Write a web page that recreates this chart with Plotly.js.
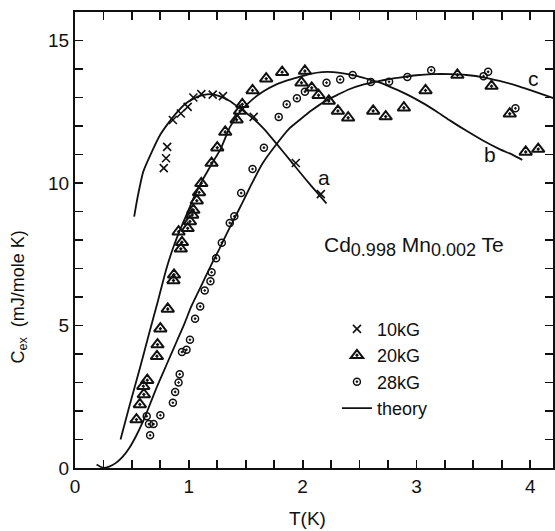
<!DOCTYPE html>
<html>
<head>
<meta charset="utf-8">
<script src="https://cdn.plot.ly/plotly-3.0.1.min.js"></script>
<style>
  html, body { margin: 0; padding: 0; background: #fff; }
  #chart { width: 555px; height: 531px; }
</style>
</head>
<body>
<div id="chart"></div>
<script>
// Excess specific heat of Cd0.998Mn0.002Te at three magnetic fields

// 10 kG measurements
const t10 = [0.78, 0.80, 0.81, 0.86, 0.93, 0.99, 1.04, 1.11, 1.21, 1.30, 1.57, 1.94, 2.16];
const c10 = [10.52, 10.87, 11.27, 12.21, 12.44, 12.67, 13.00, 13.12, 13.10, 13.05, 12.32, 10.70, 9.61];

// 20 kG measurements
const t20 = [0.54, 0.57, 0.605, 0.60, 0.635, 0.72, 0.725, 0.75, 0.815, 0.865, 0.87, 0.93, 0.94, 0.91,
             0.99, 1.01, 1.03, 1.04, 1.07, 1.09, 1.11, 1.20, 1.25, 1.32, 1.42, 1.45, 1.47, 1.56, 1.68,
             1.82, 2.02, 1.99, 2.08, 2.14, 2.23, 2.31, 2.40, 2.62, 2.73, 2.89, 3.08, 3.36, 3.66, 3.82,
             3.96, 4.07];
const c20 = [1.70, 2.23, 2.58, 2.87, 3.08, 3.92, 4.33, 4.89, 5.58, 6.58, 6.78, 7.69, 7.92, 8.29,
             8.41, 8.65, 8.88, 9.05, 9.38, 9.67, 9.99, 10.70, 11.24, 11.79, 12.22, 12.53, 12.76, 13.25, 13.66,
             13.89, 13.93, 13.52, 13.34, 13.08, 12.88, 12.53, 12.29, 12.53, 12.33, 12.64, 13.25, 13.79, 13.40, 12.43,
             11.09, 11.19];

// 28 kG measurements
const t28 = [0.66, 0.63, 0.65, 0.69, 0.75, 0.86, 0.88, 0.91, 0.92, 0.94, 0.98, 1.01, 1.055, 1.10,
             1.14, 1.19, 1.20, 1.24, 1.29, 1.36, 1.40, 1.46, 1.56, 1.66, 1.79, 1.86, 1.95, 2.02, 2.21,
             2.33, 2.44, 2.60, 2.76, 2.92, 3.13, 3.59, 3.63, 3.87];
const c28 = [1.15, 1.82, 1.54, 1.54, 1.85, 2.29, 2.67, 3.00, 3.29, 4.07, 4.15, 4.50, 5.24, 5.67,
             6.23, 6.55, 6.87, 7.36, 7.90, 8.60, 8.83, 9.65, 10.49, 11.24, 12.32, 12.76, 12.97, 13.20, 13.52,
             13.63, 13.79, 13.54, 13.55, 13.72, 13.96, 13.75, 13.90, 12.62];

// Theory curves a (10 kG), b (20 kG), c (28 kG)
const tA = [0.52, 0.55, 0.60, 0.67, 0.75, 0.82, 0.89, 0.97, 1.05, 1.12, 1.20, 1.28, 1.36, 1.45,
            1.56, 1.66, 1.77, 1.90, 2.05, 2.21];
const cA = [8.82, 9.50, 10.40, 11.05, 11.70, 12.10, 12.45, 12.78, 12.98, 13.08, 13.12, 13.03, 12.88, 12.62,
            12.28, 11.90, 11.38, 10.75, 10.02, 9.28];

const tB = [0.40, 0.48, 0.57, 0.65, 0.73, 0.80, 0.86, 0.92, 0.99, 1.05, 1.12, 1.20, 1.28, 1.36, 1.45,
            1.55, 1.65, 1.77, 1.88, 1.97, 2.07, 2.17, 2.27, 2.37, 2.47, 2.57, 2.68, 2.80, 2.92, 3.05,
            3.18, 3.30, 3.44, 3.58, 3.73, 3.85, 3.93];
const cB = [1.00, 2.20, 3.50, 4.70, 5.88, 6.95, 7.70, 8.33, 8.98, 9.55, 10.10, 10.66, 11.20, 11.95, 12.50,
            12.90, 13.20, 13.46, 13.62, 13.72, 13.83, 13.89, 13.89, 13.84, 13.76, 13.65, 13.52, 13.32, 13.10, 12.82,
            12.50, 12.18, 11.83, 11.50, 11.19, 10.98, 10.81];

const tC = [0.19, 0.25, 0.30, 0.36, 0.42, 0.48, 0.54, 0.60, 0.66, 0.72, 0.78, 0.84, 0.90, 0.96, 1.02,
            1.08, 1.14, 1.20, 1.27, 1.33, 1.40, 1.47, 1.55, 1.65, 1.77, 1.88, 1.97, 2.08, 2.21, 2.31,
            2.41, 2.53, 2.65, 2.75, 2.85, 3.00, 3.14, 3.30, 3.44, 3.60, 3.73, 3.88, 4.02, 4.21];
const cC = [0.12, 0.00, 0.05, 0.18, 0.40, 0.72, 1.15, 1.65, 2.25, 2.85, 3.40, 3.95, 4.50, 5.05, 5.65,
            6.15, 6.65, 7.15, 7.70, 8.20, 8.75, 9.30, 9.95, 10.70, 11.36, 11.90, 12.20, 12.55, 12.90, 13.10,
            13.29, 13.45, 13.56, 13.64, 13.70, 13.78, 13.82, 13.82, 13.79, 13.70, 13.58, 13.42, 13.23, 12.97];

// Curve labels
const curveNames = ['a', 'b', 'c'];
const curveLabelT = [2.19, 3.65, 4.03];
const curveLabelC = [10.2, 11.0, 13.65];

// Tick marks: every 0.25 K along T, every 1 unit along C; labels on the whole steps
const xLabelled = ['0', '1', '2', '3', '4'];
const yLabelled = ['0', '5', '10', '15'];
const xTickVals = [], xTickText = [];
for (let i = 0; i <= 16; i++) {
  xTickVals.push(i * 0.25);
  xTickText.push(i % 4 === 0 ? xLabelled[i / 4] : '');
}
const yTickVals = [], yTickText = [];
for (let i = 0; i <= 16; i++) {
  yTickVals.push(i);
  yTickText.push(i % 5 === 0 ? yLabelled[i / 5] : '');
}

const ink = '#111';
const font = 'Liberation Sans, Arial, Helvetica, sans-serif';

const lineStyle = {color: ink, width: 1.8, shape: 'spline', smoothing: 0.6};

const traces = [
  {x: tA, y: cA, mode: 'lines', line: lineStyle, name: 'theory', showlegend: true, legendrank: 4},
  {x: tB, y: cB, mode: 'lines', line: lineStyle, showlegend: false},
  {x: tC, y: cC, mode: 'lines', line: lineStyle, showlegend: false},
  {x: t10, y: c10, mode: 'markers', name: '10kG', legendrank: 1,
   marker: {symbol: 'x-thin-open', size: 8, color: ink, line: {color: ink, width: 1.6}}},
  {x: t20, y: c20, mode: 'markers', name: '20kG', legendrank: 2,
   marker: {symbol: 'triangle-up-open-dot', size: 11, color: ink, line: {color: ink, width: 2}}},
  {x: t28, y: c28, mode: 'markers', name: '28kG', legendrank: 3,
   marker: {symbol: 'circle-open-dot', size: 7, color: ink, line: {color: ink, width: 1.5}}}
];

const annotations = curveNames.map((n, i) => ({
  x: curveLabelT[i], y: curveLabelC[i], xref: 'x', yref: 'y', text: n, showarrow: false,
  font: {family: font, size: 21, color: ink}
}));

const subStyle = 'font-size:18px';
annotations.push({
  xref: 'paper', yref: 'paper', x: 0.71, y: 0.485, xanchor: 'center', yanchor: 'middle',
  text: 'Cd<sub><span style="' + subStyle + '">0.998</span></sub> Mn<sub><span style="' + subStyle +
        '">0.002</span></sub> Te',
  showarrow: false,
  font: {family: font, size: 21, color: ink}
});
annotations.push({
  xref: 'paper', yref: 'paper', x: -0.118, y: 0.375, xanchor: 'center', yanchor: 'middle',
  textangle: -90, text: 'C<sub>ex</sub>  (mJ/mole K)', showarrow: false,
  font: {family: font, size: 18, color: ink}
});
annotations.push({
  xref: 'paper', yref: 'paper', x: 0.487, y: -0.11, xanchor: 'center', yanchor: 'middle',
  text: 'T(K)', showarrow: false,
  font: {family: font, size: 19, color: ink}
});

const layout = {
  width: 555, height: 531,
  margin: {l: 75, r: 2, t: 12, b: 63},
  font: {family: font, size: 18, color: ink},
  showlegend: true,
  legend: {
    x: 0.548, y: 0.345, xanchor: 'left', yanchor: 'top',
    bgcolor: 'rgba(0,0,0,0)', font: {family: font, size: 18, color: ink},
    traceorder: 'normal'
  },
  xaxis: {
    range: [0, 4.2], showgrid: false, zeroline: false,
    showline: true, linecolor: ink, linewidth: 2, mirror: 'ticks',
    ticks: 'inside', ticklen: 8, tickwidth: 1.8, tickcolor: ink,
    tickmode: 'array', tickvals: xTickVals, ticktext: xTickText,
    tickfont: {family: font, size: 19, color: ink}
  },
  yaxis: {
    range: [0, 16], showgrid: false, zeroline: false,
    showline: true, linecolor: ink, linewidth: 2, mirror: 'ticks',
    ticks: 'inside', ticklen: 8, tickwidth: 1.8, tickcolor: ink,
    tickmode: 'array', tickvals: yTickVals, ticktext: yTickText,
    tickfont: {family: font, size: 19, color: ink}
  },
  annotations: annotations
};

Plotly.newPlot('chart', traces, layout, {staticPlot: true, displayModeBar: false});
</script>
</body>
</html>
